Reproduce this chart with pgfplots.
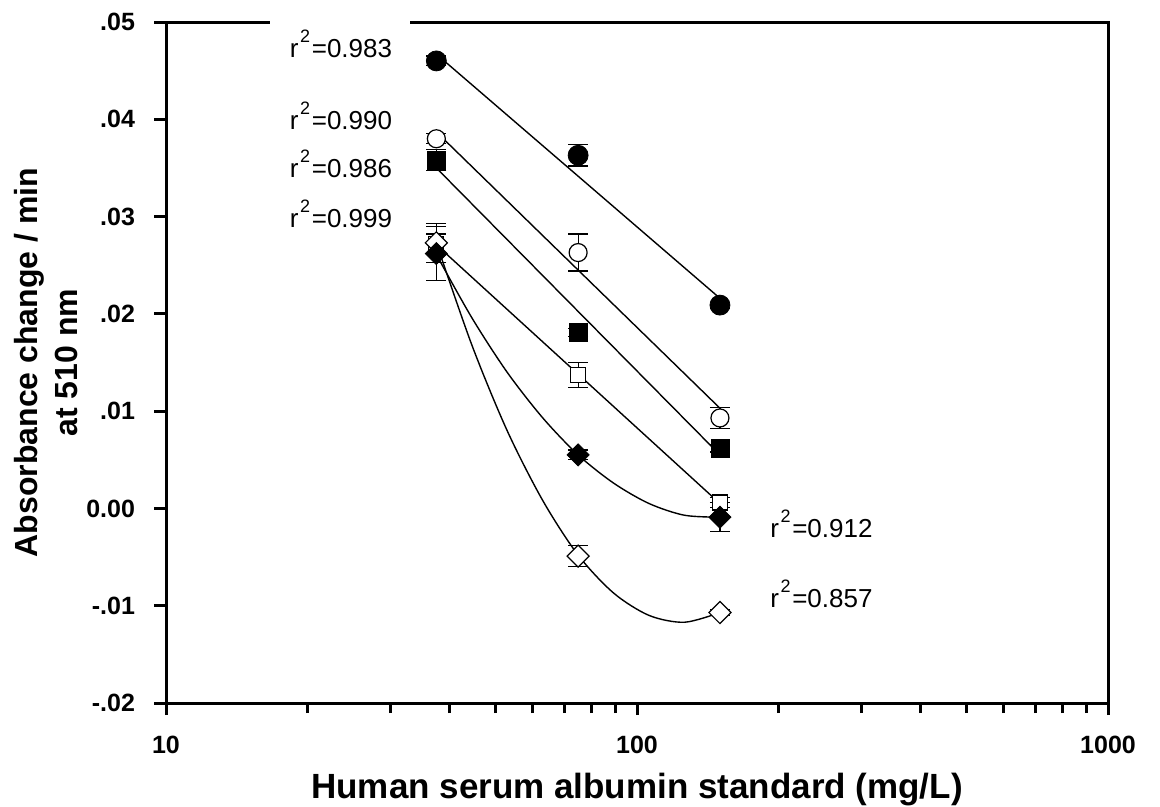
\documentclass[border=0pt]{standalone}
\usepackage{fontspec}
\setmainfont{Liberation Sans}
\usepackage{pgfplots}
\pgfplotsset{compat=1.18}

\newcommand{\rsq}[1]{r\kern0.8pt\raisebox{7.5pt}{\fontsize{9}{9}\selectfont 2}\kern0.8pt=#1}

\begin{document}
\begin{tikzpicture}
\useasboundingbox (-83pt,-52pt) rectangle (497pt,351.5pt);
\begin{axis}[
  at={(0pt,0pt)}, anchor=south west,
  scale only axis, width=471pt, height=340.5pt,
  xmode=log, xmin=10, xmax=1000,
  ymin=-0.02, ymax=0.05,
  scaled y ticks=false,
  xtick={10,100,1000}, xticklabels={10,100,1000},
  ytick={-0.02,-0.01,0,0.01,0.02,0.03,0.04,0.05},
  yticklabels={-.02,-.01,0.00,.01,.02,.03,.04,.05},
  tick align=outside, tick pos=left,
  major tick length=6pt, minor tick length=5pt,
  axis line style={line width=1.5pt},
  every tick/.append style={black, line width=1.5pt},
  ticklabel style={font=\fontsize{12.5}{14}\selectfont\bfseries},
  xticklabel style={yshift=-7pt},
  yticklabel style={xshift=-6pt},
  /pgf/number format/assume math mode=true,
  xlabel={Human serum albumin standard (mg/L)},
  ylabel={Absorbance change / min\\at 510 nm},
  xlabel style={at={(axis description cs:0.5,0)}, anchor=center, yshift=-43.5pt,
    font=\fontsize{17.5}{19}\selectfont\bfseries},
  ylabel style={at={(axis description cs:-0.127,0.5)}, anchor=center, align=center,
    font=\fontsize{16}{20}\selectfont\bfseries},
  clip=false,
  error bars/y dir=both, error bars/y explicit,
  error bars/error mark options={rotate=90, black, mark size=5pt, line width=0.6pt},
  error bars/error bar style={black, line width=0.6pt},
]
% fitted lines
\addplot[black, line width=0.7pt] coordinates {(37.5,0.0467) (150,0.0216)};
\addplot[black, line width=0.7pt] coordinates {(37.5,0.0387) (150,0.0103)};
\addplot[black, line width=0.7pt] coordinates {(37.5,0.0350) (150,0.0055)};
\addplot[black, line width=0.7pt] coordinates {(37.5,0.0271) (150,0.0005)};
\addplot[black, line width=0.7pt, smooth] coordinates {
  (37.5,0.0261) (44.6,0.0196) (53.0,0.0140) (63.1,0.0093) (75,0.0055)
  (89.2,0.0026) (106.1,0.0005) (126.1,-0.0007) (150,-0.0009)};
\addplot[black, line width=0.7pt, smooth] coordinates {
  (37.5,0.0273) (44.6,0.0168) (53.0,0.0080) (63.1,0.0008) (75,-0.0048)
  (89.2,-0.0087) (106.1,-0.0110) (126.1,-0.0117) (150,-0.0107)};

% open square
\addplot[only marks, mark=square*, mark size=3.75pt,
  mark options={fill=white, draw=black, line width=0.6pt}] coordinates {
  (37.5,0.0272) +- (0,0.0010)
  (75,0.0137) +- (0,0.0013)
  (150,0.0006) +- (0,0.0005)};
% open diamond
\addplot[only marks, mark=square*, mark size=3.9pt,
  mark options={rotate=45, fill=white, draw=black, line width=0.6pt}] coordinates {
  (37.5,0.0273) +- (0,0.0020)
  (75,-0.0049) +- (0,0.0011)
  (150,-0.0107) +- (0,0.0003)};
% filled diamond
\addplot[only marks, mark=square*, mark size=3.9pt,
  mark options={rotate=45, fill=black, draw=black}] coordinates {
  (37.5,0.0262) +- (0,0.0028)
  (75,0.0055) +- (0,0.0005)
  (150,-0.0009) +- (0,0.0015)};
% filled square
\addplot[only marks, mark=square*, mark size=4.5pt,
  mark options={fill=black, draw=black}] coordinates {
  (37.5,0.0358) +- (0,0.0011)
  (75,0.0181) +- (0,0.0004)
  (150,0.0062) +- (0,0.0004)};
% open circle
\addplot[only marks, mark=*, mark size=4.5pt,
  mark options={fill=white, draw=black, line width=0.6pt}] coordinates {
  (37.5,0.0380) +- (0,0.0005)
  (75,0.0263) +- (0,0.0019)
  (150,0.0093) +- (0,0.0011)};
% filled circle
\addplot[only marks, mark=*, mark size=5pt,
  mark options={fill=black, draw=black}] coordinates {
  (37.5,0.0460) +- (0,0.0005)
  (75,0.0363) +- (0,0.0011)
  (150,0.0209) +- (0,0.0003)};

\fill[white] (axis cs:16.6,0.0523) rectangle (axis cs:33,0.0281);
\begin{scope}[every node/.style={anchor=base west, inner sep=0pt,
    font=\fontsize{13}{14}\selectfont}]
\node at (axis cs:18.3,0.0463) {\rsq{0.983}};
\node at (axis cs:18.3,0.0389) {\rsq{0.990}};
\node at (axis cs:18.3,0.0340) {\rsq{0.986}};
\node at (axis cs:18.3,0.0289) {\rsq{0.999}};
\node at (axis cs:191.6,-0.0030) {\rsq{0.912}};
\node at (axis cs:191.6,-0.0102) {\rsq{0.857}};
\end{scope}
\end{axis}
\end{tikzpicture}
\end{document}
